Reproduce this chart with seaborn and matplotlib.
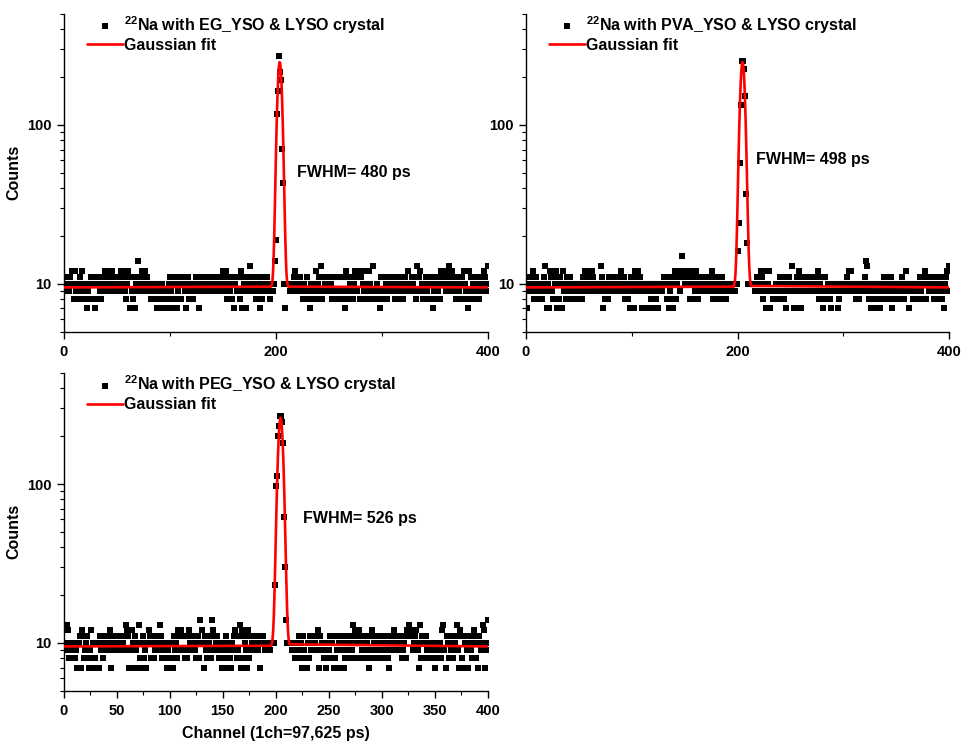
import numpy as np
import pandas as pd
import matplotlib
matplotlib.use("Agg")
import matplotlib.pyplot as plt
import matplotlib.ticker as mticker
import seaborn as sns

# Step 0: data (one count per channel, ch 1..400)
channels = list(range(1, 401))

counts_eg = (
    [9, 10, 11, 10, 9, 11, 10, 12, 10, 8] + [12, 9, 10, 8, 11, 9, 12, 10, 9, 8]
    + [10, 7, 9, 8, 10, 11, 8, 10, 11, 7] + [10, 8, 11, 9, 8, 10, 11, 9, 12, 10]
    + [11, 9, 12, 10, 11, 12, 9, 10, 11, 9] + [10, 11, 9, 12, 10, 11, 12, 9, 8, 10]
    + [12, 11, 7, 9, 8, 11, 7, 10, 9, 14] + [11, 10, 9, 12, 11, 9, 12, 10, 11, 10]
    + [9, 8, 10, 9, 8, 10, 9, 7, 8, 10] + [9, 7, 10, 8, 7, 9, 8, 7, 10, 11]
    + [9, 8, 7, 10, 11, 8, 7, 9, 11, 10] + [8, 10, 11, 9, 7, 10, 11, 8, 9, 10]
    + [9, 8, 10, 9, 11, 10, 9, 7, 11, 10] + [9, 11, 10, 9, 11, 10, 9, 10, 11, 9]
    + [10, 11, 9, 10, 9, 10, 11, 9, 10, 12] + [11, 9, 12, 8, 10, 11, 9, 10, 8, 11]
    + [7, 10, 9, 11, 9, 8, 12, 7, 11, 10] + [9, 7, 10, 9, 11, 13, 9, 10, 11, 9]
    + [8, 10, 11, 9, 7, 10, 8, 11, 9, 10] + [9, 11, 10, 9, 8, 10, 9, 10, 14, 19]
    + [118, 164, 273, 214, 193, 71, 43, 10, 7, 10] + [10, 10, 9, 10, 10, 9, 11, 12, 9, 11]
    + [10, 9, 11, 9, 10, 8, 10, 9, 11, 9] + [8, 7, 10, 8, 9, 10, 9, 12, 8, 10]
    + [11, 9, 13, 8, 11, 10, 9, 11, 10, 11] + [9, 10, 8, 11, 9, 8, 11, 9, 8, 11]
    + [9, 8, 11, 9, 7, 12, 8, 11, 9, 10] + [11, 9, 8, 10, 12, 11, 9, 12, 8, 11]
    + [12, 10, 9, 12, 8, 9, 10, 12, 10, 8] + [9, 13, 9, 8, 10, 9, 8, 7, 11, 9]
    + [8, 11, 9, 10, 8, 9, 10, 11, 9, 10] + [9, 8, 11, 10, 9, 8, 10, 11, 9, 8]
    + [10, 11, 9, 10, 12, 10, 9, 11, 10, 9] + [11, 8, 13, 9, 11, 12, 9, 10, 8, 9]
    + [10, 11, 9, 8, 10, 8, 11, 7, 9, 10] + [8, 11, 9, 10, 8, 12, 11, 10, 10, 9]
    + [12, 11, 13, 10, 9, 12, 11, 9, 10, 8] + [11, 10, 9, 10, 8, 11, 12, 10, 9, 8]
    + [7, 12, 9, 11, 8, 10, 9, 8, 11, 10] + [9, 8, 11, 10, 9, 12, 11, 9, 10, 13]
)

counts_pva = (
    [7, 11, 9, 10, 11, 9, 12, 8, 10, 11] + [9, 8, 10, 9, 8, 10, 11, 13, 9, 7]
    + [10, 7, 12, 11, 9, 8, 11, 10, 12, 7] + [8, 11, 10, 7, 12, 9, 10, 8, 11, 9]
    + [10, 11, 9, 8, 10, 9, 8, 10, 9, 8] + [10, 9, 8, 11, 10, 12, 11, 9, 12, 11]
    + [10, 9, 12, 11, 10, 9, 10, 9, 10, 9] + [13, 11, 7, 10, 8, 9, 10, 8, 11, 9]
    + [10, 11, 9, 10, 11, 9, 10, 9, 11, 12] + [9, 10, 11, 8, 10, 9, 8, 7, 11, 10]
    + [9, 7, 12, 11, 10, 12, 9, 11, 10, 7] + [9, 10, 7, 9, 10, 7, 9, 8, 10, 9]
    + [7, 10, 8, 9, 7, 10, 9, 10, 9, 10] + [11, 10, 8, 11, 7, 9, 8, 10, 7, 11]
    + [12, 8, 10, 11, 12, 9, 11, 15, 12, 10] + [11, 12, 10, 11, 8, 12, 10, 8, 11, 9]
    + [12, 10, 8, 11, 9, 10, 11, 9, 10, 11] + [9, 10, 11, 9, 10, 12, 8, 11, 9, 10]
    + [8, 11, 10, 9, 11, 8, 10, 9, 8, 10] + [10, 9, 10, 10, 9, 10, 10, 9, 10, 16]
    + [24, 58, 134, 254, 254, 225, 153, 37, 18, 10] + [10, 10, 10, 10, 10, 9, 10, 11, 9, 10]
    + [9, 12, 11, 8, 10, 9, 7, 12, 10, 12] + [7, 9, 8, 9, 8, 10, 9, 8, 10, 11]
    + [11, 9, 10, 8, 9, 7, 11, 10, 11, 9] + [13, 10, 7, 9, 7, 11, 10, 12, 9, 7]
    + [11, 10, 9, 11, 10, 9, 11, 10, 9, 11] + [10, 9, 11, 10, 9, 12, 8, 10, 11, 9]
    + [7, 8, 11, 9, 10, 9, 8, 7, 10, 9] + [10, 9, 10, 9, 7, 8, 10, 9, 10, 9]
    + [10, 9, 11, 10, 12, 9, 12, 10, 9, 10] + [9, 8, 10, 9, 8, 10, 9, 10, 9, 11]
    + [14, 13, 10, 8, 9, 7, 8, 10, 7, 9] + [10, 8, 9, 7, 10, 8, 9, 11, 10, 8]
    + [11, 9, 10, 8, 11, 7, 10, 9, 8, 10] + [9, 8, 10, 9, 11, 9, 8, 10, 12, 10]
    + [9, 7, 10, 9, 10, 8, 9, 10, 8, 9] + [10, 11, 9, 8, 11, 10, 12, 8, 10, 11]
    + [9, 11, 10, 9, 8, 11, 10, 9, 8, 10] + [11, 10, 8, 9, 7, 10, 11, 12, 9, 13]
)

counts_peg = (
    [10, 9, 13, 12, 8, 9, 10, 8, 9, 10] + [8, 9, 7, 10, 11, 7, 12, 11, 8, 9]
    + [10, 11, 8, 7, 9, 12, 8, 10, 7, 8] + [7, 10, 7, 11, 9, 10, 8, 11, 9, 10]
    + [11, 9, 10, 12, 7, 11, 9, 10, 11, 9] + [10, 9, 10, 11, 9, 10, 11, 9, 13, 12]
    + [11, 7, 9, 12, 10, 7, 11, 9, 10, 7] + [13, 8, 10, 7, 11, 8, 9, 7, 10, 12]
    + [11, 8, 10, 11, 8, 9, 10, 11, 9, 10] + [13, 11, 8, 9, 8, 10, 7, 9, 8, 7]
    + [10, 8, 7, 11, 9, 10, 8, 12, 11, 9] + [12, 11, 9, 8, 11, 8, 9, 12, 10, 11]
    + [9, 10, 11, 9, 8, 10, 11, 8, 14, 12] + [10, 7, 11, 9, 8, 11, 10, 9, 8, 14]
    + [12, 11, 9, 10, 11, 8, 10, 9, 7, 8] + [10, 8, 11, 9, 7, 10, 8, 7, 10, 9]
    + [11, 12, 8, 9, 11, 13, 7, 12, 8, 11] + [10, 9, 7, 12, 8, 11, 9, 10, 11, 9]
    + [10, 11, 9, 10, 7, 11, 10, 11, 10, 9] + [10, 9, 10, 10, 9, 10, 10, 10, 23, 97]
    + [113, 202, 233, 267, 267, 245, 180, 62, 30, 14] + [10, 10, 10, 10, 9, 10, 10, 8, 9, 10]
    + [9, 11, 8, 10, 7, 11, 9, 8, 7, 10] + [8, 11, 9, 10, 9, 11, 10, 9, 11, 12]
    + [7, 11, 9, 10, 8, 9, 7, 8, 10, 9] + [11, 8, 10, 11, 7, 8, 11, 9, 7, 10]
    + [11, 9, 10, 7, 8, 11, 9, 10, 8, 11] + [10, 9, 13, 8, 12, 11, 10, 12, 8, 11]
    + [9, 10, 8, 11, 9, 10, 8, 7, 11, 9] + [12, 8, 10, 11, 9, 8, 10, 11, 9, 8]
    + [10, 11, 9, 10, 11, 8, 7, 10, 9, 11] + [12, 10, 9, 11, 10, 9, 11, 10, 8, 9]
    + [10, 11, 8, 12, 11, 13, 12, 11, 9, 10] + [11, 12, 10, 9, 7, 13, 8, 11, 10, 8]
    + [10, 11, 9, 8, 10, 8, 9, 10, 8, 7] + [9, 10, 8, 9, 10, 8, 12, 13, 9, 7]
    + [11, 10, 8, 11, 9, 10, 8, 9, 10, 11] + [13, 9, 7, 12, 11, 8, 7, 10, 11, 9]
    + [7, 10, 11, 9, 8, 10, 12, 11, 8, 10] + [7, 11, 9, 10, 13, 12, 7, 10, 9, 14]
)

# red Gaussian fit lines
fit_x_eg = [0, 195.5, 196, 196.5, 197, 197.5, 198, 198.5, 199, 199.5, 200, 200.5,
            201, 201.5, 202, 202.5, 203, 203.5, 204, 204.5, 205, 205.5, 206, 206.5,
            207, 207.5, 208, 208.5, 209, 209.5, 210, 210.5, 211, 211.5, 212, 400]
fit_y_eg = [9.5, 9.6, 9.75, 10.1, 10.8, 12.3, 15.1, 20.0, 28.2, 40.7, 58.8, 82.9,
            112.8, 146.7, 181.3, 212.7, 236.3, 248.4, 247.0, 232.4, 206.9, 174.5, 139.7, 106.5,
            77.7, 54.7, 37.8, 26.2, 18.8, 14.4, 11.9, 10.6, 10.0, 9.7, 9.6, 9.5]

fit_x_pva = [0, 196.5, 197, 197.5, 198, 198.5, 199, 199.5, 200, 200.5, 201, 201.5,
             202, 202.5, 203, 203.5, 204, 204.5, 205, 205.5, 206, 206.5, 207, 207.5,
             208, 208.5, 209, 209.5, 210, 210.5, 211, 211.5, 212, 212.5, 213, 400]
fit_y_pva = [9.5, 9.6, 9.9, 10.5, 11.5, 13.6, 17.1, 23.1, 32.5, 46.4, 65.6, 90.4,
             120.2, 153.0, 186.1, 215.5, 237.3, 248.5, 247.2, 233.7, 210.1, 179.7, 146.3, 113.9,
             85.1, 61.3, 43.2, 30.3, 21.7, 16.2, 13.1, 11.3, 10.3, 9.9, 9.7, 9.5]

fit_x_peg = [0, 195.5, 196, 196.5, 197, 197.5, 198, 198.5, 199, 199.5, 200, 200.5,
             201, 201.5, 202, 202.5, 203, 203.5, 204, 204.5, 205, 205.5, 206, 206.5,
             207, 207.5, 208, 208.5, 209, 209.5, 210, 210.5, 211, 211.5, 212, 212.5, 213, 400]
fit_y_peg = [9.5, 9.6, 9.8, 10.1, 10.7, 11.9, 14.0, 17.7, 23.6, 32.8, 46.1, 64.3,
             87.9, 116.3, 148.4, 181.6, 212.8, 238.6, 255.6, 261.5, 255.6, 238.6, 212.8, 181.6,
             148.4, 116.3, 87.9, 64.3, 46.1, 32.8, 23.6, 17.7, 14.0, 11.9, 10.7, 10.1, 9.8, 9.5]

labels = [r"$^{22}$Na with EG_YSO & LYSO crystal",
          r"$^{22}$Na with PVA_YSO & LYSO crystal",
          r"$^{22}$Na with PEG_YSO & LYSO crystal"]
fwhm_texts = ["FWHM= 480 ps", "FWHM= 498 ps", "FWHM= 526 ps"]

# Step 1: style
sns.set_theme(style="ticks")
plt.rcParams["font.family"] = ["Liberation Sans", "DejaVu Sans"]
plt.rcParams["font.weight"] = "bold"
plt.rcParams["axes.labelweight"] = "bold"
plt.rcParams["text.color"] = "black"
plt.rcParams["axes.labelcolor"] = "black"
plt.rcParams["xtick.color"] = "black"
plt.rcParams["ytick.color"] = "black"
plt.rcParams["mathtext.fontset"] = "custom"
plt.rcParams["mathtext.rm"] = "Liberation Sans:bold"
plt.rcParams["mathtext.it"] = "Liberation Sans:bold"
plt.rcParams["mathtext.bf"] = "Liberation Sans:bold"

fig = plt.figure(figsize=(9.63, 7.42), dpi=100)
ax1 = fig.add_axes([0.0661, 0.5530, 0.4406, 0.4282])
ax2 = fig.add_axes([0.5459, 0.5530, 0.4400, 0.4282])
ax3 = fig.add_axes([0.0661, 0.0691, 0.4406, 0.4282])


def draw_panel(ax, counts, fit_x, fit_y, label, fwhm, fwhm_pos, major, minor):
    df = pd.DataFrame({"Channel": channels, "Counts": counts})
    ax.set_yscale("log")
    sns.scatterplot(data=df, x="Channel", y="Counts", ax=ax, marker="s", s=21,
                    color="black", linewidth=0, label=label, zorder=2)
    sns.lineplot(x=fit_x, y=fit_y, ax=ax, color="red", linewidth=1.9,
                 label="Gaussian fit", zorder=3, sort=False)
    ax.set_xlim(0, 400)
    ax.set_ylim(5, 500)
    ax.xaxis.set_major_locator(mticker.MultipleLocator(major))
    ax.xaxis.set_minor_locator(mticker.MultipleLocator(minor))
    ax.yaxis.set_major_locator(mticker.LogLocator(base=10))
    ax.yaxis.set_minor_locator(mticker.LogLocator(base=10, subs=range(2, 10)))
    ax.yaxis.set_major_formatter(mticker.FuncFormatter(lambda v, p: f"{v:g}"))
    ax.yaxis.set_minor_formatter(mticker.NullFormatter())
    ax.tick_params(which="major", direction="out", length=5, width=1, labelsize=10.5,
                   color="black", labelcolor="black", pad=3.5)
    ax.tick_params(axis="x", which="major", pad=4.5)
    ax.tick_params(which="minor", direction="out", length=3, width=0.8, color="black")
    sns.despine(ax=ax)
    for sp in ["left", "bottom"]:
        ax.spines[sp].set_linewidth(1.0)
        ax.spines[sp].set_color("black")
    ax.set_xlabel("")
    ax.set_ylabel("")
    ax.text(fwhm_pos[0], fwhm_pos[1], fwhm, fontsize=11.5, fontweight="bold",
            color="black", ha="left", va="center")
    ax.legend(loc="upper left", bbox_to_anchor=(0.055, 1.0), frameon=False,
              prop={"size": 11.5, "weight": "bold"}, handlelength=2.25,
              handletextpad=0.05, labelspacing=0.15, borderpad=0, borderaxespad=0)


draw_panel(ax1, counts_eg, fit_x_eg, fit_y_eg, labels[0], fwhm_texts[0], (220, 50), 200, 100)
draw_panel(ax2, counts_pva, fit_x_pva, fit_y_pva, labels[1], fwhm_texts[1], (217, 61), 200, 100)
draw_panel(ax3, counts_peg, fit_x_peg, fit_y_peg, labels[2], fwhm_texts[2], (226, 61), 50, 25)

ax1.set_ylabel("Counts", fontsize=11.5)
ax3.set_ylabel("Counts", fontsize=11.5)
ax3.set_xlabel("Channel (1ch=97,625 ps)", fontsize=11.5, labelpad=6)

fig.savefig("out.png", dpi=100)
